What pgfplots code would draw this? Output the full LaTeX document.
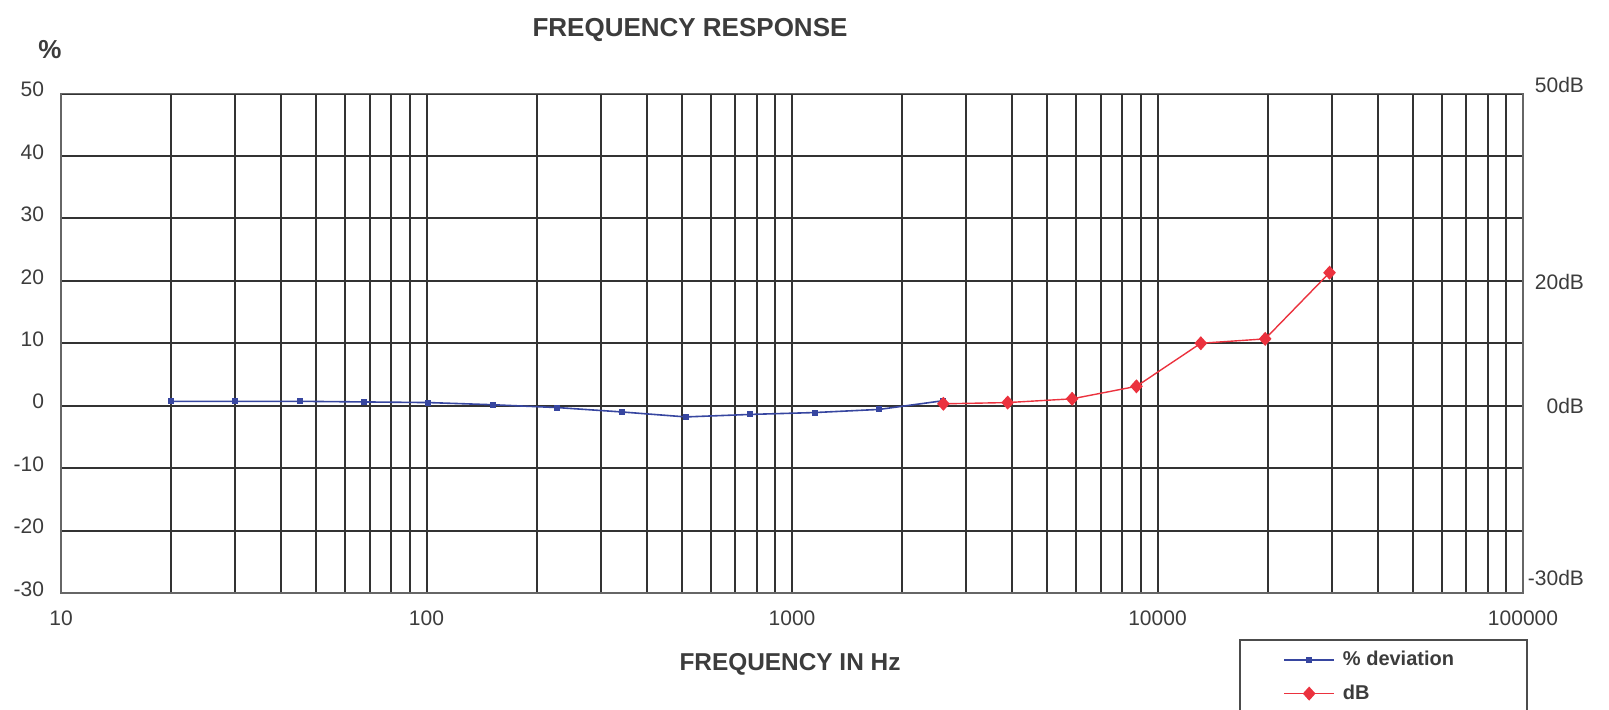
\documentclass[border=0pt]{standalone}
\usepackage{pgfplots}
\pgfplotsset{compat=1.18}
\usepackage{fontspec}
\setmainfont{Liberation Sans}

\definecolor{devblue}{RGB}{55,70,160}
\definecolor{dbred}{RGB}{235,50,62}
\definecolor{ink}{RGB}{60,60,60}

\begin{document}
\begin{tikzpicture}
\useasboundingbox (0,0) rectangle (804.5pt,355pt);
\begin{axis}[
  at={(30.5pt,58.5pt)}, anchor=south west,
  scale only axis, width=731pt, height=249.75pt,
  xmode=log, xmin=10, xmax=100000,
  ymin=-30, ymax=50,
  xtick={10,100,1000,10000,100000},
  xticklabels={10,100,1000,10000,100000},
  ytick={-30,-20,-10,0,10,20,30,40,50},
  yticklabels={-30,-20,-10,0,10,20,30,40,50},
  major tick length=0pt, minor tick length=0pt,
  xmajorgrids, xminorgrids, ymajorgrids,
  grid style={black!80, line width=1pt},
  minor grid style={black!80, line width=1pt},
  axis line style={black!60, line width=0.9pt},
  ticklabel style={font=\fontsize{10.5}{12}\selectfont, text=ink},
  xticklabel style={yshift=-5.5pt},
  yticklabel style={xshift=-5pt, yshift=2pt},
  clip=false,
  legend style={at={(0.8358,-0.108)}, anchor=north west, draw=none, fill=none,
    font=\fontsize{10}{12}\selectfont\bfseries, text=ink, row sep=4pt,
    column sep=2pt, inner sep=0pt},
  legend cell align=left,
  legend image code/.code={\draw[mark repeat=2, mark phase=2] plot coordinates {(0pt,0pt) (12.5pt,0pt) (25pt,0pt)};},
]
% % deviation, steps of 1.5x from 20 Hz
\addplot[devblue, line width=0.8pt, mark=square*, mark size=1.1pt] coordinates {
  (20,0.7) (30,0.7) (45,0.7) (67.5,0.6) (101.25,0.5) (151.9,0.15) (227.8,-0.3)
  (341.7,-1.0) (512.6,-1.8) (768.9,-1.4) (1153.3,-1.1) (1730,-0.6) (2595,0.8)
};
\addlegendentry{\% deviation}
\addplot[dbred, line width=0.7pt, mark=diamond*, mark size=3pt, mark options={xscale=1.2}] coordinates {
  (2595,0.3) (3892,0.5) (5839,1.1) (8758,3.1) (13137,10.0) (19706,10.7) (29559,21.3)
};
\addlegendentry{dB}

\node[anchor=east, font=\fontsize{10.5}{12}\selectfont, text=ink] at ([xshift=34pt,yshift=4.25pt]axis cs:100000,50) {50dB};
\node[anchor=east, font=\fontsize{10.5}{12}\selectfont, text=ink] at ([xshift=34pt,yshift=-0.5pt]axis cs:100000,20) {20dB};
\node[anchor=east, font=\fontsize{10.5}{12}\selectfont, text=ink] at ([xshift=34pt]axis cs:100000,0) {0dB};
\node[anchor=east, font=\fontsize{10.5}{12}\selectfont, text=ink] at ([xshift=34pt,yshift=7.5pt]axis cs:100000,-30) {-30dB};
\end{axis}

\node[font=\fontsize{13}{15}\selectfont\bfseries, text=ink] at (345pt,340pt) {FREQUENCY RESPONSE};
\node[font=\fontsize{13}{15}\selectfont\bfseries, text=ink] at (25pt,330pt) {\%};
\node[font=\fontsize{12.2}{14}\selectfont\bfseries, text=ink] at (395pt,23pt) {FREQUENCY IN Hz};
\draw[black!70, line width=0.8pt] (620pt,35pt) rectangle (763.5pt,-30pt);
\end{tikzpicture}
\end{document}
